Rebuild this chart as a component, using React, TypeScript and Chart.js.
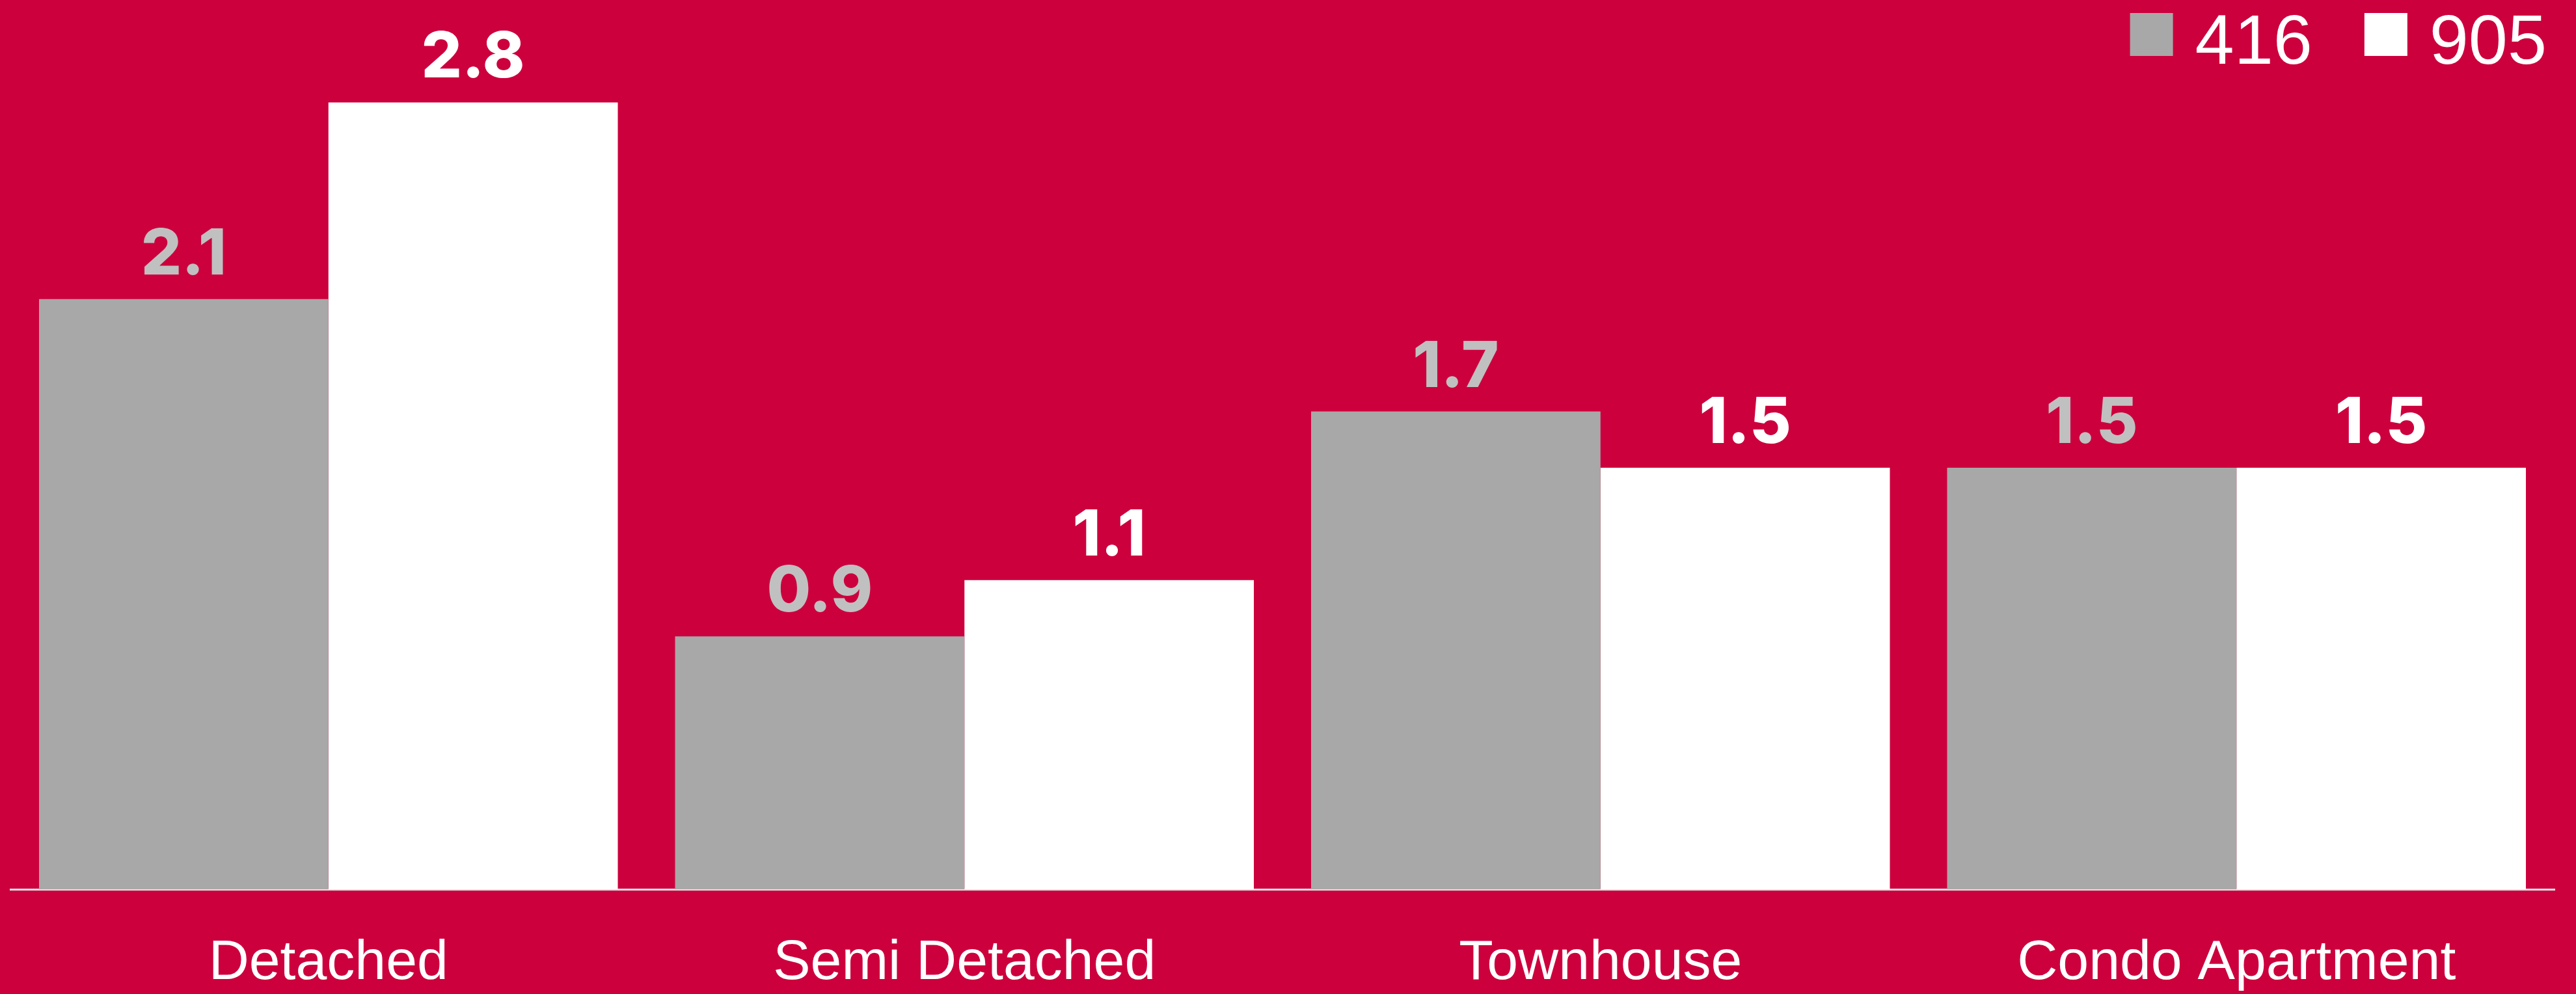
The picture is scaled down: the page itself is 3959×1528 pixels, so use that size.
import React, { useEffect, useRef } from "react";
import { Chart, registerables } from "chart.js";

Chart.register(...registerables);

const categories = ["Detached", "Semi Detached", "Townhouse", "Condo Apartment"];
const series416 = [2.1, 0.9, 1.7, 1.5];
const series905 = [2.8, 1.1, 1.5, 1.5];
const seriesNames = ["416", "905"];

const BG = "#CC003D";
const GRAY = "#A8A8A8";
const GRAY_LABEL = "#C0C0C0";
const WHITE = "#FFFFFF";
const FONT = "'Liberation Sans', Arial, sans-serif";
const BOLD_FONT = "Inter, 'Liberation Sans', Arial, sans-serif";

const valueLabels = {
  id: "valueLabels",
  afterDatasetsDraw(chart: any) {
    const ctx = chart.ctx;
    ctx.save();
    ctx.font = `800 98px ${BOLD_FONT}`;
    ctx.textAlign = "center";
    ctx.textBaseline = "alphabetic";
    chart.data.datasets.forEach((ds: any, i: number) => {
      const meta = chart.getDatasetMeta(i);
      ctx.fillStyle = i === 0 ? GRAY_LABEL : WHITE;
      meta.data.forEach((el: any, j: number) => {
        ctx.fillText(Number(ds.data[j]).toFixed(1), el.x, el.y - 38);
      });
    });
    ctx.restore();
  },
};

const topLegend = {
  id: "topLegend",
  afterDraw(chart: any) {
    const ctx = chart.ctx;
    const ds = chart.data.datasets;
    ctx.save();
    ctx.font = `108px ${FONT}`;
    ctx.textBaseline = "alphabetic";
    ctx.textAlign = "left";
    const box = 66;
    const textGap = 34;
    const itemGap = 80;
    const boxTop = 20;
    const baseline = 98;
    let right = chart.width - 45;
    for (let i = ds.length - 1; i >= 0; i--) {
      const text = String(ds[i].label);
      const w = ctx.measureText(text).width;
      const tx = right - w;
      ctx.fillStyle = WHITE;
      ctx.fillText(text, tx, baseline);
      const bx = tx - textGap - box;
      ctx.fillStyle = ds[i].backgroundColor;
      ctx.fillRect(bx, boxTop, box, box);
      right = bx - itemGap;
    }
    ctx.restore();
  },
};

export default function App() {
  const ref = useRef<HTMLCanvasElement>(null);
  useEffect(() => {
    if (!ref.current) return;
    const chart = new Chart(ref.current, {
      type: "bar",
      data: {
        labels: categories,
        datasets: [
          { label: seriesNames[0], data: series416, backgroundColor: GRAY, borderWidth: 0 },
          { label: seriesNames[1], data: series905, backgroundColor: WHITE, borderWidth: 0 },
        ],
      },
      options: {
        animation: false,
        responsive: false,
        maintainAspectRatio: false,
        layout: { padding: { left: 16, right: 33, top: 71, bottom: -67 } },
        datasets: { bar: { categoryPercentage: 0.91, barPercentage: 1.0 } },
        plugins: {
          legend: { display: false },
          tooltip: { enabled: false },
        },
        scales: {
          x: {
            grid: { display: false, drawTicks: false },
            border: { display: true, color: "#E2E2E2", width: 3 },
            ticks: { color: WHITE, font: { family: FONT, size: 86, lineHeight: 1 }, padding: 71 },
          },
          y: {
            display: false,
            min: 0,
            max: 3.0,
          },
        },
      },
      plugins: [valueLabels, topLegend],
    });
    return () => chart.destroy();
  }, []);
  return (
    <div style={{ position: "fixed", left: 0, top: 0, width: 3959, height: 1528, background: BG }}>
      <canvas ref={ref} width={3959} height={1528} style={{ width: 3959, height: 1528, display: "block" }} />
    </div>
  );
}
